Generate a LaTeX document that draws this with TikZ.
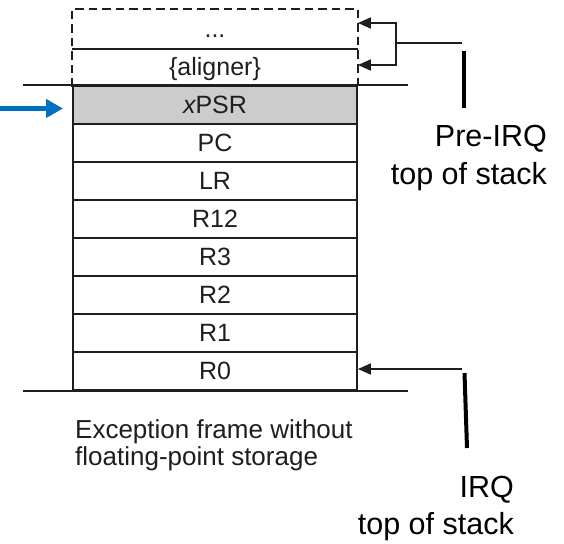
\documentclass[tikz,border=0pt]{standalone}
\usepackage{fontspec}
\setmainfont{Liberation Sans}
\usetikzlibrary{arrows.meta}
\definecolor{ink}{HTML}{1E1E1E}
\definecolor{cellgray}{HTML}{CCCCCC}
\definecolor{armblue}{HTML}{0070C0}
\begin{document}
\begin{tikzpicture}[x=1pt,y=-1pt,
  cell/.style={draw=ink, line width=1.8pt, minimum width=284pt, minimum height=38pt,
    inner sep=0pt, text=ink, font=\fontsize{25}{30}\selectfont,
    text height=17.9pt, text depth=0pt},
  ghost/.style={cell, draw=none},
  rule/.style={draw=ink, line width=1.8pt},
  conn/.style={draw=ink, line width=1.8pt},
  tip/.style={-{Triangle[length=13pt,width=11pt]}},
  bar/.style={draw=black, line width=4pt},
  label/.style={inner sep=0pt, align=right, text=black}]
\useasboundingbox (0,0) rectangle (564,543);

% optional padding above the frame
\node[ghost] (dots)    at (215,29) {...};
\node[ghost] (aligner) at (215,67) {\{aligner\}};
\draw[ink, line width=1.5pt, dash pattern=on 8.5pt off 5pt]
  (aligner.south west) -- (dots.north west) -- (dots.north east) -- (aligner.south east);
\draw[rule] (dots.south west) -- (dots.south east);

% exception frame
\node[cell, fill=cellgray] (xpsr) at (215,105) {{\itshape x}PSR};
\node[cell] (pc)  at (215,143) {PC};
\node[cell] (lr)  at (215,181) {LR};
\node[cell] (r12) at (215,219) {R12};
\node[cell] (r3)  at (215,257) {R3};
\node[cell] (r2)  at (215,295) {R2};
\node[cell] (r1)  at (215,333) {R1};
\node[cell] (r0)  at (215,371) {R0};

% boundary rules
\draw[rule] ([xshift=-49pt]xpsr.north west) -- ([xshift=50pt]xpsr.north east);
\draw[rule] ([xshift=-49pt]r0.south west) -- ([xshift=50pt]r0.south east);

% incoming blue arrow
\coordinate (src) at (0,108.5);
\coordinate (bluetip) at (63,108.5);
\draw[armblue, line width=4.5pt, -{Triangle[length=17pt,width=18pt]}] (src) -- (bluetip);

% pre-IRQ stack pointer
\coordinate (brk) at (396,43);
\coordinate (preend) at (462,43);
\draw[conn, tip] (brk) |- ([yshift=6pt]dots.east);
\draw[conn, tip] (brk) |- ([yshift=2pt]aligner.east);
\draw[conn] (brk) -- (preend);
\coordinate (pbar1) at (464,51);
\coordinate (pbar2) at (464,108);
\draw[bar] (pbar1) -- (pbar2);
\node[label, anchor=north east, font=\fontsize{30.5}{38}\selectfont] (prelbl) at (547,125)
  {Pre-IRQ\\top of stack};

% IRQ stack pointer
\coordinate (irqend) at (462,369);
\draw[conn, tip] (irqend) -- (r0.east |- irqend);
\coordinate (ibar1) at (464.5,373);
\coordinate (ibar2) at (467,448);
\draw[bar] (ibar1) -- (ibar2);
\node[label, anchor=north east, font=\fontsize{30.5}{37}\selectfont] (irqlbl) at (514,476)
  {IRQ\\top of stack};

% caption
\node[inner sep=0pt, anchor=north west, align=left, text=ink,
  font=\fontsize{26}{27}\selectfont] (caption) at (75,419)
  {Exception frame without\\floating-point storage};
\end{tikzpicture}
\end{document}
